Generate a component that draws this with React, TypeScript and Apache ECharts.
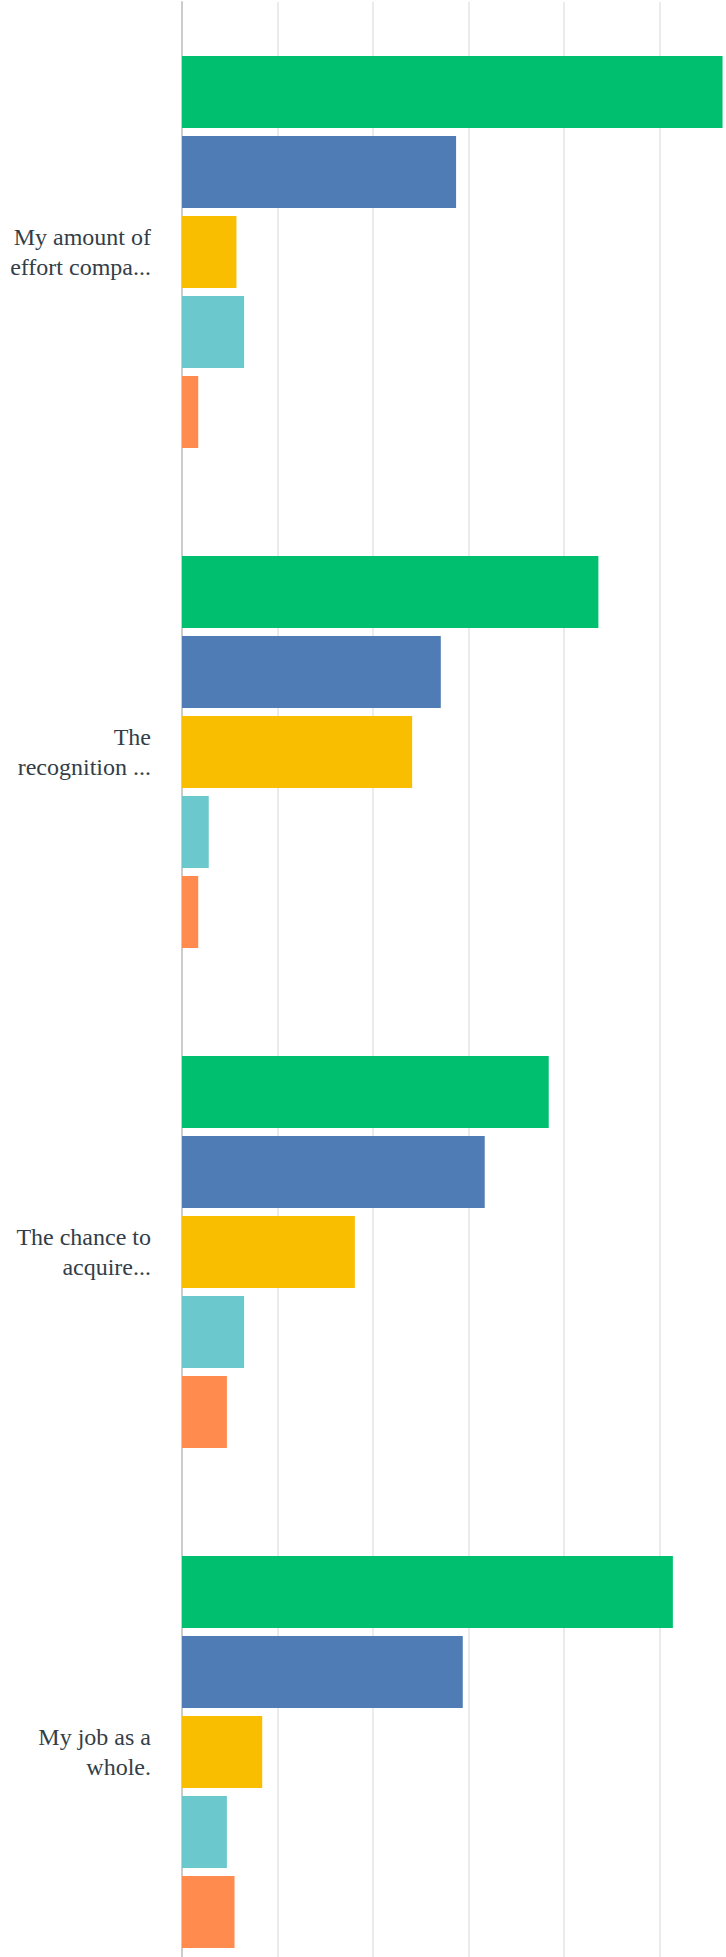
import React, { useEffect, useRef } from "react";
import * as echarts from "echarts";

const categories: string[] = [
  "My amount of\neffort compa...",
  "The\nrecognition ...",
  "The chance to\nacquire...",
  "My job as a\nwhole.",
];

const seriesNames: string[] = ["Series 1", "Series 2", "Series 3", "Series 4", "Series 5"];
const seriesColors: string[] = ["#00bf6f", "#507cb6", "#f9be00", "#6bc8cd", "#ff8b4f"];

const valuesGreen: number[] = [56.6, 43.6, 38.4, 51.4];
const valuesBlue: number[] = [28.7, 27.1, 31.7, 29.4];
const valuesYellow: number[] = [5.7, 24.1, 18.1, 8.4];
const valuesTeal: number[] = [6.5, 2.8, 6.5, 4.7];
const valuesOrange: number[] = [1.7, 1.7, 4.7, 5.5];

const xMin = 0;
const xMax = 60;
const xInterval = 10;

const labelFont = "Liberation Serif";

export default function App() {
  const ref = useRef<HTMLDivElement>(null);
  useEffect(() => {
    if (!ref.current) return;
    const chart = echarts.init(ref.current, undefined, { renderer: "svg" });
    const allValues = [valuesGreen, valuesBlue, valuesYellow, valuesTeal, valuesOrange];
    chart.setOption({
      animation: false,
      backgroundColor: "#ffffff",
      grid: { left: 182, right: 5, top: 2, bottom: 8, containLabel: false },
      xAxis: {
        type: "value",
        min: xMin,
        max: xMax,
        interval: xInterval,
        axisLine: { show: false },
        axisTick: { show: false },
        axisLabel: { show: false },
        splitLine: { show: true, lineStyle: { color: "#ebebeb", width: 2 } },
      },
      yAxis: {
        type: "category",
        data: categories,
        inverse: true,
        axisLine: { show: true, lineStyle: { color: "#cccccc", width: 2 } },
        axisTick: { show: false },
        splitLine: { show: false },
        axisLabel: {
          margin: 31,
          align: "right",
          color: "#333e48",
          fontFamily: labelFont,
          fontSize: 24,
          lineHeight: 30,
        },
      },
      series: allValues.map((vals, i) => ({
        name: seriesNames[i],
        type: "bar",
        data: vals,
        barWidth: 72,
        barGap: "11.11%",
        itemStyle: { color: seriesColors[i] },
      })),
    });
    return () => chart.dispose();
  }, []);
  return (
    <div
      style={{
        position: "absolute",
        left: 0,
        top: 0,
        width: 726,
        height: 1957,
        overflow: "hidden",
        background: "#ffffff",
      }}
    >
      <div ref={ref} style={{ width: 760, height: 2010 }} />
    </div>
  );
}
